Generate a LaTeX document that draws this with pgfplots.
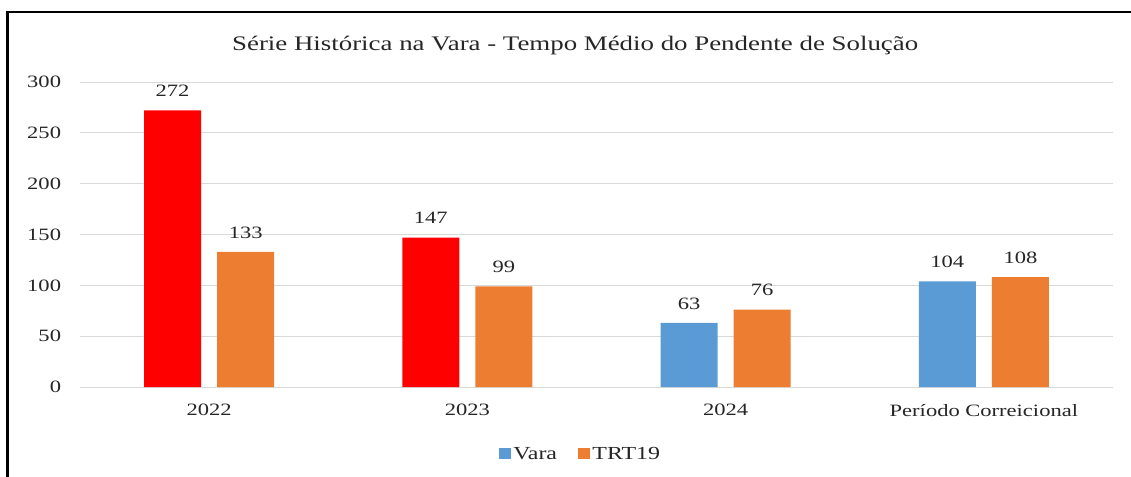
\documentclass[border=0pt]{standalone}
\usepackage{fontspec}
\setmainfont{Liberation Serif}[FakeStretch=1.3]
\usepackage{pgfplots}
\pgfplotsset{compat=1.18}
\definecolor{vblue}{HTML}{5B9BD5}
\definecolor{vorange}{HTML}{ED7D31}
\definecolor{vred}{HTML}{FF0000}
\definecolor{gridc}{HTML}{D9D9D9}
\definecolor{txt}{HTML}{262626}
\begin{document}
\begin{tikzpicture}
\begin{axis}[
 at={(60pt,66.75pt)}, anchor=south west,
 scale only axis, width=774.75pt, height=228.75pt,
 xmin=-0.5, xmax=3.5, ymin=0, ymax=300,
 ytick={0,50,...,300},
 xtick={0,1,2,3},
 xticklabels={2022,2023,2024,Período Correicional},
 ymajorgrids, grid style={gridc, line width=0.75pt},
 axis line style={draw=none},
 major tick length=0pt,
 /pgf/number format/assume math mode=true,
 tick label style={font=\fontsize{13}{15}\selectfont, text=txt},
 yticklabel style={xshift=-10.7pt},
 xticklabel style={yshift=-9.5pt},
 ybar, bar width=42.75pt,
 nodes near coords,
 nodes near coords style={font=\fontsize{13}{15}\selectfont, text=txt, inner sep=0pt, anchor=south, yshift=10pt},
 title={Série Histórica na Vara - Tempo Médio do Pendente de Solução},
 title style={at={(0.5,1)}, anchor=center, yshift=21.5pt, xshift=-16pt, font=\fontsize{15.5}{18}\selectfont, text=txt},
 legend style={at={(0.485,-0.22)}, anchor=center, draw=none, legend columns=2, font=\fontsize{13.8}{15}\selectfont, text=txt, /tikz/every even column/.append style={column sep=14pt}},
 legend image code/.code={\fill[#1] (0pt,-4pt) rectangle (8.5pt,4.5pt);},
]
\addplot[fill=vblue, draw=none, bar shift=-27.4pt] coordinates {(2,63) (3,104)};
\addlegendentry{Vara}
\addplot[fill=vorange, draw=none, bar shift=27.4pt] coordinates {(0,133) (1,99) (2,76) (3,108)};
\addlegendentry{TRT19}
\addplot[fill=vred, draw=none, bar shift=-27.4pt, forget plot] coordinates {(0,272) (1,147)};
\end{axis}
\pgfresetboundingbox
\path[use as bounding box] (0,0) rectangle (848.25pt,357pt);
\draw[line width=2pt] (5.6pt,-3pt) -- (5.6pt,348pt) -- (851pt,348pt);
\end{tikzpicture}
\end{document}
